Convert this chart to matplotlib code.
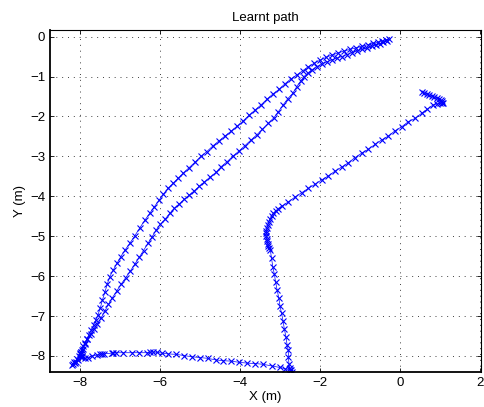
import numpy as np
import matplotlib
matplotlib.use('Agg')
import matplotlib.pyplot as plt

plt.rcParams['font.family'] = ['Liberation Sans', 'DejaVu Sans']
plt.rcParams['font.size'] = 9.5

# Waypoints of the learnt path (metres), in travel order
start_x = [0.54, 0.61, 0.67, 0.73, 0.79, 0.85, 0.92, 0.97, 1.02, 1.06, 1.08, 1.04, 1.00]
start_y = [-1.38, -1.41, -1.44, -1.47, -1.49, -1.52, -1.54, -1.57, -1.59, -1.62, -1.65, -1.66, -1.67]

diag_x = [0.92, 0.83, 0.68, 0.54, 0.375, 0.21, 0.04, -0.125, -0.29, -0.46, -0.625, -0.79,
          -0.96, -1.125, -1.29, -1.46, -1.625, -1.79, -1.96, -2.125, -2.29, -2.46, -2.625,
          -2.79, -2.96, -3.05, -3.11, -3.17, -3.21, -3.25, -3.28, -3.31, -3.33, -3.34, -3.34,
          -3.34, -3.33, -3.32, -3.31, -3.29, -3.27, -3.24]
diag_y = [-1.69, -1.71, -1.82, -1.92, -2.05, -2.13, -2.26, -2.36, -2.49, -2.59, -2.70, -2.82,
          -2.92, -3.03, -3.16, -3.27, -3.37, -3.49, -3.59, -3.70, -3.80, -3.91, -4.02,
          -4.14, -4.25, -4.31, -4.37, -4.43, -4.50, -4.57, -4.64, -4.72, -4.80, -4.87, -4.93,
          -5.00, -5.06, -5.13, -5.19, -5.25, -5.30, -5.35]

down_x = [-3.21, -3.18, -3.14, -3.11, -3.07, -3.03, -3.00, -2.96, -2.92, -2.89, -2.85, -2.82,
          -2.79, -2.79, -2.775, -2.75, -2.71, -2.73]
down_y = [-5.55, -5.76, -5.95, -6.14, -6.35, -6.54, -6.74, -6.93, -7.13, -7.33, -7.52, -7.73,
          -7.86, -8.02, -8.19, -8.31, -8.40, -8.36]

bottom_x = [-2.75, -2.88, -3.00, -3.21, -3.42, -3.625, -3.83, -4.02, -4.23, -4.42, -4.60,
            -4.81, -5.00, -5.21, -5.40, -5.60, -5.79, -5.95, -6.08, -6.17, -6.25, -6.33,
            -6.52, -6.71, -6.92, -7.10, -7.17, -7.21, -7.40, -7.45, -7.50, -7.58, -7.71,
            -7.79, -7.875, -7.96, -7.97, -7.98, -7.96, -8.04, -8.09, -8.125, -8.17, -8.21]
bottom_y = [-8.35, -8.32, -8.29, -8.25, -8.21, -8.19, -8.18, -8.16, -8.13, -8.12, -8.10,
            -8.06, -8.04, -8.02, -7.99, -7.96, -7.95, -7.93, -7.91, -7.90, -7.91, -7.92,
            -7.92, -7.92, -7.92, -7.92, -7.92, -7.93, -7.95, -7.95, -7.95, -7.98, -8.00,
            -8.04, -8.06, -8.02, -7.96, -7.90, -7.99, -8.10, -8.14, -8.17, -8.20, -8.23]

outer_x = [-8.14, -8.08, -8.03, -7.99, -7.95, -7.92, -7.88, -7.83, -7.78, -7.72, -7.66, -7.60,
           -7.55, -7.49, -7.44, -7.38, -7.32, -7.26, -7.17, -7.07, -6.98, -6.87, -6.75, -6.63,
           -6.51, -6.38, -6.26, -6.14, -6.03, -5.92, -5.80, -5.67, -5.55, -5.42, -5.27, -5.12,
           -4.98, -4.83, -4.68, -4.525, -4.375, -4.225, -4.07, -3.93, -3.775, -3.625, -3.475,
           -3.33, -3.18, -3.025, -2.875, -2.73, -2.58, -2.43, -2.29, -2.15, -2.00, -1.85,
           -1.70, -1.55, -1.40, -1.25, -1.10, -0.95, -0.80, -0.67, -0.55, -0.45, -0.36, -0.28]
outer_y = [-8.15, -8.08, -8.00, -7.92, -7.84, -7.76, -7.68, -7.58, -7.48, -7.36, -7.22, -7.10,
           -6.97, -6.79, -6.60, -6.41, -6.21, -6.02, -5.85, -5.67, -5.51, -5.34, -5.17, -4.99,
           -4.80, -4.60, -4.43, -4.26, -4.10, -3.95, -3.80, -3.67, -3.55, -3.42, -3.28, -3.14,
           -3.00, -2.88, -2.74, -2.61, -2.49, -2.37, -2.24, -2.12, -1.97, -1.84, -1.71,
           -1.57, -1.44, -1.32, -1.18, -1.06, -0.96, -0.85, -0.75, -0.67, -0.59, -0.52,
           -0.46, -0.41, -0.36, -0.32, -0.28, -0.24, -0.20, -0.17, -0.14, -0.11, -0.08, -0.06]

inner_x = [-0.33, -0.42, -0.50, -0.60, -0.70, -0.83, -0.95, -1.08, -1.20, -1.33, -1.46, -1.58,
           -1.70, -1.83, -1.95, -2.08, -2.20, -2.29, -2.40, -2.475, -2.58, -2.68, -2.81, -2.92,
           -3.04, -3.15, -3.29, -3.44, -3.58, -3.725, -3.875, -4.02, -4.17, -4.32, -4.475,
           -4.60, -4.75, -4.89, -5.02, -5.14, -5.27, -5.40, -5.52, -5.64, -5.76, -5.87, -5.99,
           -6.10, -6.20, -6.30, -6.41, -6.52, -6.63, -6.74, -6.86, -6.97, -7.08, -7.19, -7.29,
           -7.38, -7.47, -7.57, -7.65, -7.73, -7.82, -7.875, -7.93, -7.98, -7.99, -7.98]
inner_y = [-0.10, -0.14, -0.18, -0.21, -0.24, -0.29, -0.32, -0.36, -0.40, -0.45, -0.50, -0.54,
           -0.58, -0.63, -0.69, -0.75, -0.83, -0.90, -1.00, -1.10, -1.25, -1.42, -1.56, -1.71,
           -1.88, -2.03, -2.17, -2.32, -2.46, -2.59, -2.73, -2.86, -2.99, -3.13, -3.26,
           -3.40, -3.52, -3.64, -3.75, -3.86, -3.97, -4.08, -4.19, -4.30, -4.43, -4.57, -4.70,
           -4.85, -5.02, -5.18, -5.36, -5.53, -5.70, -5.87, -6.04, -6.20, -6.37, -6.54, -6.71,
           -6.88, -7.04, -7.21, -7.33, -7.46, -7.58, -7.71, -7.82, -7.90, -7.96, -8.02]

path_x = start_x + diag_x + down_x + bottom_x + outer_x + inner_x
path_y = start_y + diag_y + down_y + bottom_y + outer_y + inner_y

fig = plt.figure(figsize=(4.84, 4.07), dpi=100)
ax = fig.add_axes([0.1033, 0.0853, 0.8899, 0.8403])

ax.plot(path_x, path_y, '-x', color='blue', lw=0.5, ms=5, mew=0.8)

ax.set_xlim(-8.75, 2.02)
ax.set_ylim(-8.41, 0.16)
ax.set_xticks([-8, -6, -4, -2, 0, 2])
ax.set_yticks([0, -1, -2, -3, -4, -5, -6, -7, -8])

ax.grid(True, color='0.25', ls=(0, (1, 5)), lw=0.7)
ax.tick_params(direction='in', length=3, width=0.6, top=True, right=True, labelsize=9.5)
for s in ax.spines.values():
    s.set_linewidth(0.8)
ax.spines['left'].set_linewidth(1.3)
ax.spines['bottom'].set_linewidth(1.3)

ax.set_title('Learnt path', fontsize=9.5, pad=7)
ax.set_xlabel('X (m)', labelpad=1)
ax.set_ylabel('Y (m)', labelpad=3)

fig.savefig('out.png', dpi=100)
